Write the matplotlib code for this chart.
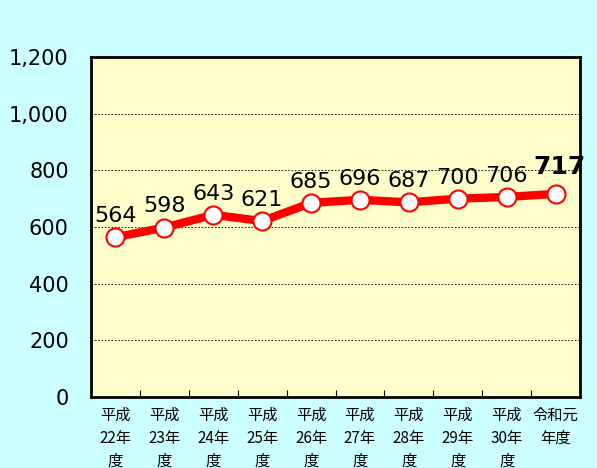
import matplotlib.pyplot as plt

plt.rcParams['font.family'] = ['Noto Sans CJK JP', 'DejaVu Sans']

years = ["平成\n22年\n度", "平成\n23年\n度", "平成\n24年\n度", "平成\n25年\n度",
         "平成\n26年\n度", "平成\n27年\n度", "平成\n28年\n度", "平成\n29年\n度",
         "平成\n30年\n度", "令和元\n年度"]
values = [564, 598, 643, 621, 685, 696, 687, 700, 706, 717]

fig = plt.figure(figsize=(5.97, 4.68), dpi=100, facecolor='#ccffff')
ax = fig.add_axes([91/597, 1 - 397/468, 489/597, 340/468])
ax.set_facecolor('#ffffcc')

x = list(range(len(values)))
ax.plot(x, values, color='#ff0000', lw=6, marker='o', ms=13,
        mfc='white', mec='#ff0000', mew=1.5, zorder=3, clip_on=False)

for i, v in enumerate(values):
    if i == len(values) - 1:
        ax.annotate(str(v), (i, v), xytext=(3, 11), textcoords='offset points',
                    ha='center', va='bottom', fontsize=18, fontweight='bold',
                    family='DejaVu Sans', annotation_clip=False)
    else:
        ax.annotate(str(v), (i, v), xytext=(0, 8), textcoords='offset points',
                    ha='center', va='bottom', fontsize=16, family='DejaVu Sans')

ax.set_xlim(-0.5, len(values) - 0.5)
ax.set_ylim(0, 1200)
ax.set_yticks(range(0, 1201, 200))
ax.set_yticklabels([f"{t:,}" for t in range(0, 1201, 200)], fontsize=15,
                   family='DejaVu Sans')
ax.tick_params(axis='y', length=0, pad=16)
ax.yaxis.grid(True, color='black', ls=(0, (2, 2)), lw=0.6)
ax.set_axisbelow(True)

ax.set_xticks([i + 0.5 for i in range(len(values) - 1)], minor=False)
ax.set_xticklabels([])
ax.tick_params(axis='x', direction='in', length=5, color='black')
ax.set_xticks(x, minor=True)
ax.set_xticklabels(years, minor=True, fontsize=11, linespacing=1.45, va='top')
ax.tick_params(axis='x', which='minor', length=0, pad=7)

for s in ax.spines.values():
    s.set_linewidth(2)
    s.set_color('black')

fig.savefig('out.png', dpi=100, facecolor=fig.get_facecolor())
